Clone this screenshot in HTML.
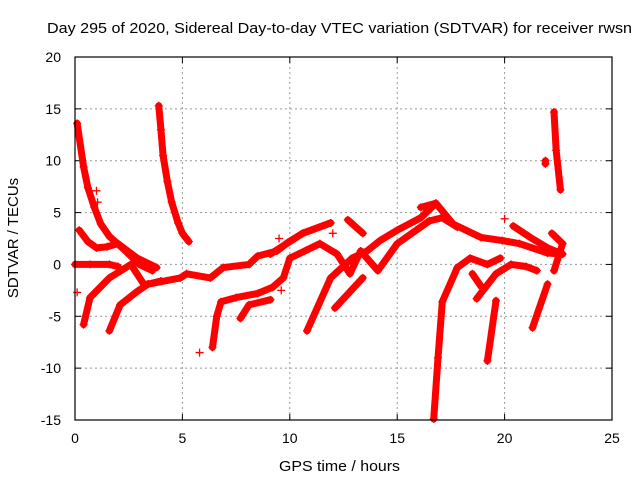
<!DOCTYPE html>
<html><head><meta charset="utf-8"><style>
body{margin:0;background:#fff}
svg{display:block;font-family:"Liberation Sans",sans-serif}
</style></head><body>
<svg id="chart" width="640" height="480" xmlns="http://www.w3.org/2000/svg">
<rect width="640" height="480" fill="#fff"/>
<text x="47" y="33" font-size="15" textLength="585" lengthAdjust="spacingAndGlyphs">Day 295 of 2020, Sidereal Day-to-day VTEC variation (SDTVAR) for receiver rwsn</text>
<g id="grid"></g>
<g id="ticks"></g>
<g id="marks"></g>
<rect x="75" y="57" width="537" height="363" fill="none" stroke="#000" stroke-width="1.2"/>
<text x="279" y="471" font-size="15" textLength="121" lengthAdjust="spacingAndGlyphs">GPS time / hours</text>
<text x="18" y="238" font-size="15" text-anchor="middle" transform="rotate(-90 18 238)">SDTVAR / TECUs</text>
</svg>
<script>
const xTicks = [0,5,10,15,20,25];
const yTicks = [20,15,10,5,0,-5,-10,-15];
const track1 = [[0.1,13.6],[0.4,9.4],[0.6,7.4],[0.9,5.5],[1.2,3.9],[1.6,2.7],[2.2,1.6],[3.0,0.0],[3.6,-0.6]];
const track2 = [[0.2,3.3],[0.6,2.2],[1.0,1.6],[1.5,1.7],[2.0,2.0],[2.9,0.6],[3.8,-0.3]];
const track3 = [[0.0,0.0],[0.7,0.0],[1.6,0.0],[2.0,-0.2]];
const track4 = [[0.4,-5.8],[0.7,-3.2],[1.6,-1.3],[2.6,0.0],[3.2,-1.9],[3.4,-1.9],[4.9,-1.3],[5.2,-0.9],[6.3,-1.3],[6.9,-0.3],[8.1,0.0],[8.5,0.8],[9.4,1.3],[9.9,2.1],[10.6,3.0],[11.9,4.0]];
const track5 = [[1.6,-6.4],[2.1,-3.9],[2.9,-2.6],[3.4,-1.9],[4.0,-1.6]];
const track6 = [[3.9,15.3],[4.0,13.0],[4.1,10.5],[4.3,8.0],[4.5,6.0],[4.8,4.0],[5.0,3.0],[5.3,2.2]];
const track7 = [[6.4,-8.0],[6.6,-5.0],[6.8,-3.6],[7.5,-3.2],[8.5,-2.8],[9.2,-2.2],[9.7,-1.3],[10.0,0.6],[11.4,2.0],[12.2,1.0],[12.8,-0.9],[13.3,1.3],[14.1,-0.6],[15.0,2.0],[16.5,4.2],[17.1,4.5],[17.8,3.6]];
const track8 = [[7.7,-5.2],[8.1,-3.9],[9.1,-3.4]];
const track9 = [[10.8,-6.4],[11.9,-1.3],[12.9,0.6],[13.6,1.3],[14.2,2.3],[15.0,3.3],[16.1,4.5],[16.8,5.9]];
const track10 = [[9.1,1.0],[10.6,3.0],[11.9,4.0]];
const track11 = [[12.1,-4.2],[13.4,-1.3]];
const track12 = [[12.7,4.3],[13.4,3.0]];
const track13 = [[16.7,-14.9],[16.9,-9.0],[17.1,-3.6],[17.8,-0.3],[18.4,0.6],[19.2,0.0],[19.8,0.6]];
const track14 = [[16.1,5.5],[16.8,5.9],[17.6,3.9],[18.9,2.6],[19.9,2.3],[20.7,2.0],[22.0,1.1],[22.6,1.0]];
const track15 = [[18.5,-0.9],[18.9,-2.1]];
const track16 = [[18.7,-3.3],[19.6,-0.9],[20.3,0.0],[21.0,-0.2],[21.5,-0.6]];
const track17 = [[20.4,3.7],[21.2,2.6],[22.0,1.6],[22.7,1.0]];
const track18 = [[22.2,3.0],[22.7,2.0],[22.3,-0.6]];
const track19 = [[19.2,-9.3],[19.6,-3.5]];
const track20 = [[21.3,-6.1],[22.0,-1.9]];
const track21 = [[22.3,14.7],[22.4,11.0],[22.6,7.2]];
const track22 = [[21.9,9.7],[21.9,10.0]];
const track23 = [[20.0,4.4],[1.0,7.1],[1.05,6.0],[5.8,-8.5],[0.1,-2.7],[9.5,2.5],[9.6,-2.5],[12.0,3.0]];
const tracks = [track1,track2,track3,track4,track5,track6,track7,track8,track9,track10,track11,track12,track13,track14,track15,track16,track17,track18,track19,track20,track21,track22];

const NS="http://www.w3.org/2000/svg";
const X0=75,X1=612,Y0=57,Y1=420;
function xs(v){return X0+(v-0)/25*(X1-X0);}
function ys(v){return Y0+(20-v)/35*(Y1-Y0);}
function mk(t,a,p){const e=document.createElementNS(NS,t);for(const k in a)e.setAttribute(k,a[k]);p.appendChild(e);return e;}
const grid=document.getElementById('grid'),ticks=document.getElementById('ticks'),marks=document.getElementById('marks');
xTicks.forEach(v=>{
  const x=xs(v);
  if(v>0&&v<25){const g=mk('line',{x1:x,x2:x,y1:Y0,y2:Y1,stroke:'#999','stroke-dasharray':'2,3'},grid);
  
  }
  mk('line',{x1:x,x2:x,y1:Y1,y2:Y1-6,stroke:'#000'},ticks);
  mk('line',{x1:x,x2:x,y1:Y0,y2:Y0+6,stroke:'#000'},ticks);
  const t=mk('text',{x:x,y:443,'font-size':14,'text-anchor':'middle'},ticks);t.textContent=v;
  
  
});
yTicks.forEach(v=>{
  const y=ys(v);
  if(v<20&&v>-15){const g=mk('line',{x1:X0,x2:X1,y1:y,y2:y,stroke:'#999','stroke-dasharray':'2,3'},grid);
  
  }
  mk('line',{x1:X0,x2:X0+6,y1:y,y2:y,stroke:'#000'},ticks);
  mk('line',{x1:X1,x2:X1-6,y1:y,y2:y,stroke:'#000'},ticks);
  const t=mk('text',{x:61,y:y+5,'font-size':14,'text-anchor':'end'},ticks);t.textContent=v;
  
  
});
function plus(h,v){
  const x=xs(h),y=ys(v);
  const p=mk('path',{d:`M${x-4},${y}H${x+4}M${x},${y-4}V${y+4}`,stroke:'#f00','stroke-width':1.3},marks);
  
  
}
tracks.forEach(tr=>{
  const pl=mk('polyline',{points:tr.map(p=>xs(p[0])+','+ys(p[1])).join(' '),fill:'none',stroke:'#f00','stroke-width':7,'stroke-linejoin':'round','stroke-linecap':'round'},marks);
  
  
  tr.forEach(p=>plus(p[0],p[1]));
});
track23.forEach(p=>plus(p[0],p[1]));
</script>
</body></html>
